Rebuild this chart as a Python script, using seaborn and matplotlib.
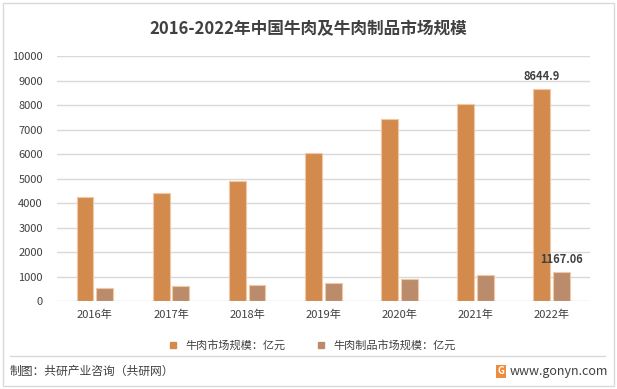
import pandas as pd
import matplotlib.pyplot as plt
import seaborn as sns
from matplotlib.lines import Line2D

# 数据
years = ['2016年', '2017年', '2018年', '2019年', '2020年', '2021年', '2022年']
beef_market = [4230, 4430, 4880, 6060, 7410, 8030, 8644.9]
beef_product_market = [530, 610, 665, 735, 897, 1060, 1167.06]
series_names = ['牛肉市场规模：亿元', '牛肉制品市场规模：亿元']
colors = ['#D38B4D', '#BB8C6B']

df = pd.DataFrame({
    '年份': years * 2,
    '规模': beef_market + beef_product_market,
    '类型': [series_names[0]] * len(years) + [series_names[1]] * len(years),
})

sns.set_style('white')
plt.rcParams['font.family'] = ['Noto Sans CJK SC', 'DejaVu Sans']
text_color = '#404040'

fig = plt.figure(figsize=(6.17, 3.89), dpi=100)
ax = fig.add_axes([0.092, 0.226, 0.864, 0.630])

sns.barplot(data=df, x='年份', y='规模', hue='类型', palette=colors, saturation=1,
            width=0.52, gap=0.15, ax=ax, legend=False,
            edgecolor='#F0C8A4', linewidth=0.8)

ax.set_ylim(0, 10000)
ax.set_xlim(-0.5, len(years) - 0.5)
ax.set_yticks(range(0, 10001, 1000))
ax.yaxis.grid(True, color='#D9D9D9', linewidth=1)
ax.set_axisbelow(True)
for s in ax.spines.values():
    s.set_visible(False)
ax.set_xlabel('')
ax.set_ylabel('')
ax.tick_params(axis='both', length=0, labelsize=8, colors=text_color, pad=6)
ax.tick_params(axis='y', pad=10)

# 数据标签（仅2022年）
ax.text(6 - 0.13, beef_market[-1] + 250, f'{beef_market[-1]}', ha='center', va='bottom',
        fontsize=8, color=text_color, fontweight='bold')
ax.text(6 + 0.13, beef_product_market[-1] + 250, f'{beef_product_market[-1]:.2f}', ha='center',
        va='bottom', fontsize=8, color=text_color, fontweight='bold')

# 标题
fig.text(0.5, 0.925, '2016-2022年中国牛肉及牛肉制品市场规模', ha='center', va='center',
         fontsize=12, fontweight='bold', color=text_color)

# 图例
handles = [Line2D([0], [0], marker='s', linestyle='', color=c, markersize=5) for c in colors]
fig.legend(handles, series_names, loc='center', bbox_to_anchor=(0.5, 0.113), ncol=2,
           frameon=False, fontsize=8, handletextpad=0.1, columnspacing=2.2,
           labelcolor=text_color)

# 分隔线与底部信息
fig.add_artist(Line2D([0.016, 0.98], [0.085, 0.085], color='#D9D9D9', linewidth=1))
fig.text(0.016, 0.045, '制图：共研产业咨询（共研网）', ha='left', va='center',
         fontsize=8.5, color=text_color)
fig.text(0.985, 0.045, 'www.gonyn.com', ha='right', va='center', fontsize=9, color=text_color)
fig.text(0.812, 0.045, 'G', ha='center', va='center', fontsize=7, fontweight='bold',
         color='white', bbox=dict(boxstyle='square,pad=0.15', fc='#F08A3C', ec='none'))

# 外框
fig.add_artist(plt.Rectangle((0.005, 0.008), 0.99, 0.984, transform=fig.transFigure,
                             fill=False, edgecolor='#D9D9D9', linewidth=1))

fig.savefig('out.png', dpi=100)
